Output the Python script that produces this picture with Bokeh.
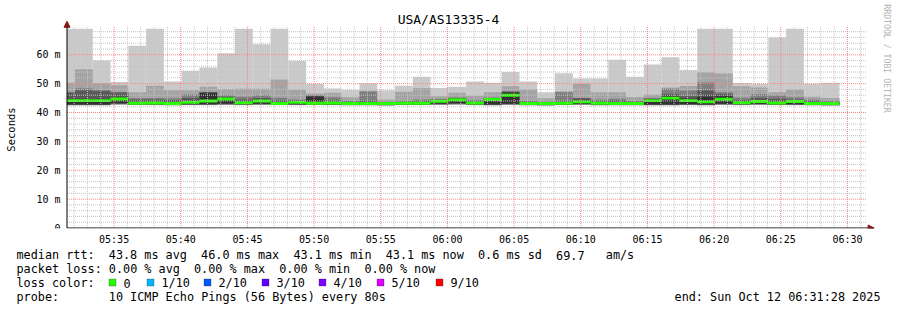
import math
import re
from bokeh.plotting import figure
from bokeh.layouts import column
from bokeh.models import (FixedTicker, Label, BoxAnnotation, Arrow, NormalHead,
                          ColumnDataSource, Range1d)
from bokeh.embed import file_html
from bokeh.resources import INLINE

# ---------------- data ----------------
# time axis in minutes after 05:00
t_start = 31 + 28 / 60      # 05:31:28
t_end = 91 + 28 / 60        # 06:31:28
step_min = 80 / 60          # one probe every 80 s
first_edge = 32 + 4 / 60    # 05:32:04, end of first (partial) step
y_top = 70                  # top of the value scale (ms)

tick_minutes = [35, 40, 45, 50, 55, 60, 65, 70, 75, 80, 85, 90]
tick_labels = ["05:35", "05:40", "05:45", "05:50", "05:55", "06:00",
               "06:05", "06:10", "06:15", "06:20", "06:25", "06:30"]
minor_minutes = [m for m in range(32, 92) if m % 5 != 0]
y_ticks = [0, 10, 20, 30, 40, 50, 60]
y_labels = ["0", "10 m", "20 m", "30 m", "40 m", "50 m", "60 m"]
y_minor = [v for v in range(2, 71, 2) if v % 10 != 0]

# sorted ping RTTs per 80 s step (ms): p1 lowest ... p10 highest
p10 = [69.0, 69.0, 58.0, 50.6, 63.1, 69.0, 50.7, 54.5, 55.6, 60.5, 69.0, 63.6,
       69.0, 57.8, 49.9, 48.3, 47.8, 50.1, 47.7, 49.3, 52.4, 48.5, 48.9, 50.7,
       50.3, 54.0, 50.7, 47.0, 53.6, 51.8, 51.8, 58.3, 52.4, 56.6, 59.1, 54.7,
       69.0, 69.0, 50.2, 49.9, 66.0, 69.0, 50.0, 50.3]
p9 = [50.3, 55.0, 50.1, 49.4, 47.0, 49.3, 47.7, 47.7, 48.9, 48.1, 48.2, 48.2,
      51.4, 47.9, 46.6, 46.8, 45.3, 47.5, 44.5, 47.2, 48.5, 45.6, 46.8, 45.8,
      47.0, 49.1, 48.0, 44.9, 47.4, 50.0, 47.0, 47.0, 45.4, 46.2, 48.7, 49.2,
      53.9, 53.5, 49.1, 48.7, 47.0, 48.0, 45.5, 45.0]
p8 = [47.0, 48.4, 47.9, 47.0, 44.9, 45.0, 44.9, 46.2, 47.0, 46.0, 45.5, 46.0,
      45.1, 44.5, 45.9, 45.3, 44.0, 47.3, 43.8, 44.0, 44.5, 44.5, 45.2, 44.3,
      45.2, 47.4, 44.0, 43.8, 47.0, 45.0, 44.5, 44.8, 44.0, 45.0, 48.2, 47.6,
      50.4, 47.0, 45.1, 46.3, 45.9, 45.3, 44.5, 44.0]
p7 = [46.9, 47.6, 47.4, 46.9, 44.5, 44.5, 44.3, 45.0, 47.0, 45.5, 44.5, 45.0,
      44.2, 44.2, 45.8, 44.2, 43.8, 44.0, 43.6, 43.8, 44.0, 44.5, 45.0, 44.0,
      44.9, 47.2, 43.8, 43.6, 43.9, 44.9, 44.0, 44.2, 43.8, 44.8, 46.5, 45.6,
      47.6, 46.5, 44.3, 45.0, 44.8, 44.5, 44.0, 43.7]
p6 = [44.6, 44.6, 44.6, 45.2, 43.6, 43.7, 43.5, 43.9, 46.8, 45.1, 43.8, 44.4,
      43.5, 43.9, 45.5, 43.7, 43.5, 43.5, 43.4, 43.6, 43.6, 44.3, 44.9, 43.7,
      44.9, 46.9, 43.5, 43.4, 43.6, 44.1, 43.6, 43.5, 43.5, 44.6, 45.6, 44.8,
      45.5, 45.6, 43.8, 44.2, 43.7, 44.2, 43.5, 43.4]
median = [44.1, 44.1, 44.1, 44.7, 43.2, 43.3, 43.1, 43.5, 44.0, 44.7, 43.4, 44.0,
          43.1, 43.5, 43.2, 43.3, 43.1, 43.1, 43.1, 43.2, 43.2, 43.9, 44.4, 43.3,
          44.5, 46.0, 43.1, 43.1, 43.2, 43.7, 43.2, 43.1, 43.1, 44.1, 45.0, 44.1,
          43.7, 44.6, 43.4, 43.8, 43.3, 43.8, 43.1, 43.1]
p5 = [42.8, 42.8, 42.8, 43.2, 42.9, 42.9, 42.8, 42.9, 42.9, 43.0, 42.9, 43.0,
      42.9, 42.9, 42.9, 42.9, 42.8, 42.8, 42.7, 42.9, 42.9, 43.0, 43.2, 42.9,
      42.8, 43.0, 42.8, 42.7, 42.9, 43.0, 42.8, 42.8, 42.8, 42.8, 42.8, 42.9,
      42.8, 43.0, 42.9, 43.0, 42.9, 42.9, 42.8, 42.7]
p4 = [42.7, 42.7, 42.7, 43.0, 42.8, 42.8, 42.7, 42.8, 42.8, 42.9, 42.8, 42.9,
      42.8, 42.8, 42.8, 42.8, 42.7, 42.7, 42.6, 42.8, 42.8, 42.9, 43.0, 42.8,
      42.7, 42.9, 42.7, 42.6, 42.8, 42.9, 42.7, 42.7, 42.7, 42.7, 42.7, 42.8,
      42.7, 42.9, 42.8, 42.9, 42.8, 42.8, 42.7, 42.6]
p3 = [42.6, 42.6, 42.6, 42.9, 42.7, 42.7, 42.6, 42.7, 42.7, 42.8, 42.7, 42.8,
      42.7, 42.7, 42.7, 42.7, 42.6, 42.6, 42.5, 42.7, 42.7, 42.8, 42.9, 42.7,
      42.6, 42.8, 42.6, 42.5, 42.7, 42.8, 42.6, 42.6, 42.6, 42.6, 42.6, 42.7,
      42.6, 42.8, 42.7, 42.8, 42.7, 42.7, 42.6, 42.5]
p2 = [42.5, 42.5, 42.5, 42.8, 42.6, 42.6, 42.5, 42.6, 42.6, 42.7, 42.6, 42.7,
      42.6, 42.6, 42.6, 42.6, 42.5, 42.5, 42.4, 42.6, 42.6, 42.7, 42.8, 42.6,
      42.5, 42.7, 42.5, 42.4, 42.6, 42.7, 42.5, 42.5, 42.5, 42.5, 42.5, 42.6,
      42.5, 42.7, 42.6, 42.7, 42.6, 42.6, 42.5, 42.4]
p1 = [42.4, 42.4, 42.4, 42.7, 42.5, 42.5, 42.4, 42.5, 42.5, 42.6, 42.5, 42.6,
      42.5, 42.5, 42.5, 42.5, 42.4, 42.4, 42.3, 42.5, 42.5, 42.6, 42.7, 42.5,
      42.4, 42.6, 42.4, 42.3, 42.5, 42.6, 42.4, 42.4, 42.4, 42.4, 42.4, 42.5,
      42.4, 42.6, 42.5, 42.6, 42.5, 42.5, 42.4, 42.3]

loss_labels = ["0", "1/10", "2/10", "3/10", "4/10", "5/10", "9/10"]
loss_colors = ["#26ff00", "#00b8ff", "#0059ff", "#5e00ff", "#7e00ff", "#dd00ff", "#ff0000"]

row_rtt = "median rtt:  43.8 ms avg  46.0 ms max  43.1 ms min  43.1 ms now  0.6 ms sd  69.7   am/s"
row_loss = "packet loss: 0.00 % avg  0.00 % max  0.00 % min  0.00 % now"
row_probe = "probe:       10 ICMP Echo Pings (56 Bytes) every 80s"
row_end = "end: Sun Oct 12 06:31:28 2025"
title_text = "USA/AS13335-4"
credit_text = "RRDTOOL / TOBI OETIKER"
y_title = "Seconds"

# ---------------- main figure ----------------
FONT = "DejaVu Sans Mono"
W = 897
MAIN_H = 247
FB = 229           # frame bottom (canvas px); frame spans full width
AX_X = 66.5        # canvas x of the time axis origin
AX_Y = 228.5       # canvas y of value 0
PX_MIN = 800 / 60  # pixels per minute
PX_MS = 2.9        # pixels per ms

x0 = t_start - AX_X / PX_MIN
x1 = x0 + W / PX_MIN
y0 = -(FB - AX_Y) / PX_MS
y1 = y0 + FB / PX_MS

p = figure(width=W, height=MAIN_H, x_range=Range1d(x0, x1), y_range=Range1d(y0, y1),
           output_backend="svg", toolbar_location=None, y_axis_location=None,
           min_border_left=0, min_border_right=0, min_border_top=0,
           min_border_bottom=MAIN_H - FB)
p.outline_line_color = None
p.background_fill_color = "white"
p.border_fill_color = "white"
p.grid.visible = False

n = len(median)
left = [first_edge + (k - 1) * step_min for k in range(n)]
left[0] = t_start
right = [first_edge + k * step_min for k in range(n)]

layers = [(p1, p10, "#cacaca"), (p2, p9, "#a4a4a4"), (p3, p8, "#7e7e7e"),
          (p4, p7, "#585858"), (p5, p6, "#323232")]
for bot, top, col in layers:
    src = ColumnDataSource(dict(left=left, right=right, bottom=bot, top=top))
    p.quad(left="left", right="right", bottom="bottom", top="top", source=src,
           fill_color=col, line_color=None)

band = 0.5
msrc = ColumnDataSource(dict(left=left, right=right,
                             bottom=[m - band for m in median], top=[m + band for m in median]))
p.quad(left="left", right="right", bottom="bottom", top="top", source=msrc,
       fill_color="#26ff00", line_color=None)

# grid (drawn over the smoke, like rrdtool)
p.segment(x0=minor_minutes, x1=minor_minutes, y0=[0] * len(minor_minutes),
          y1=[y_top] * len(minor_minutes), line_color="#c4c4c4", line_width=1, line_dash="1 1")
p.segment(x0=[t_start] * len(y_minor), x1=[t_end] * len(y_minor), y0=y_minor, y1=y_minor,
          line_color="#c4c4c4", line_width=1, line_dash="1 1")
p.segment(x0=tick_minutes, x1=tick_minutes, y0=[0] * len(tick_minutes),
          y1=[y_top] * len(tick_minutes), line_color="#ff8080", line_width=1, line_dash="1 1")
hmaj = y_ticks[1:]
p.segment(x0=[t_start] * len(hmaj), x1=[t_end] * len(hmaj), y0=hmaj, y1=hmaj,
          line_color="#ff8080", line_width=1, line_dash="1 1")

# time axis (labels only; its line is drawn as an arrow)
ax = p.xaxis[0]
ax.ticker = FixedTicker(ticks=tick_minutes, minor_ticks=[])
ax.major_label_overrides = {m: s for m, s in zip(tick_minutes, tick_labels)}
ax.axis_line_color = None
ax.major_tick_line_color = None
ax.major_tick_in = 0
ax.major_tick_out = 0
ax.minor_tick_line_color = None
ax.major_label_text_font = FONT
ax.major_label_text_font_size = "10px"
ax.major_label_text_color = "#000000"
ax.major_label_standoff = 5

head_col = "#8b1414"
p.add_layout(Arrow(x_start=t_start, y_start=0, x_end=t_start, y_end=71.6, line_color="black",
                   line_width=1, end=NormalHead(size=6, fill_color=head_col, line_color=head_col)))
p.add_layout(Arrow(x_start=t_start, y_start=0, x_end=92.0, y_end=0, line_color="black",
                   line_width=1, end=NormalHead(size=6, fill_color=head_col, line_color=head_col)))


def lab(fig, fb, text, cx, cy, size, color="#000000", align="left", angle=0.0):
    fig.add_layout(Label(x=cx, y=fb - cy, x_units="screen", y_units="screen", text=text,
                         text_font=FONT, text_font_size=f"{size}px", text_color=color,
                         text_baseline="middle", text_align=align, angle=angle))


# value-axis tick labels placed through the y scale
for v, s in zip(y_ticks, y_labels):
    p.add_layout(Label(x=60, x_units="screen", y=v, y_units="data", text=s,
                       text_font=FONT, text_font_size="10px", text_color="#000000",
                       text_align="right", text_baseline="middle"))

lab(p, FB, y_title, 10, 130, 10.5, align="center", angle=math.pi / 2)
lab(p, FB, title_text, 448, 19.5, 13, align="center")
lab(p, FB, credit_text, 886, 59, 8.2, color="#b4b4b4", align="center", angle=-math.pi / 2)

# ---------------- legend strip ----------------
LEG_H = 310 - MAIN_H
q = figure(width=W, height=LEG_H, x_range=Range1d(0, W), y_range=Range1d(0, LEG_H),
           output_backend="svg", toolbar_location=None,
           x_axis_location=None, y_axis_location=None,
           min_border_left=0, min_border_right=0, min_border_top=0, min_border_bottom=0)
q.outline_line_color = None
q.grid.visible = False
q.background_fill_color = "white"
q.border_fill_color = "white"

QB = 310   # canvas y of legend strip bottom
LS = 11.8  # legend font size (px)
CW = 7.1   # monospace character advance at LS


def row(text, cx, cy):
    # keep rrdtool's column layout: place each space-separated group at its column
    for m in re.finditer(r"\S+(?: \S+)*", text):
        lab(q, QB, m.group(0), cx + m.start() * CW, cy, LS)


row(row_rtt, 16, 254.5)
row(row_loss, 16, 268.5)
row("loss color:", 16, 282.5)
sq_x = [108, 146, 203, 261, 318, 376, 435]
for sx, txt, col in zip(sq_x, loss_labels, loss_colors):
    q.add_layout(BoxAnnotation(left=sx + 0.5, right=sx + 7.5, top=QB - 278.5, bottom=QB - 285.5,
                               left_units="screen", right_units="screen",
                               top_units="screen", bottom_units="screen",
                               fill_color=col, fill_alpha=1, line_color="#202020", line_width=1))
    lab(q, QB, txt, sx + 15, 282.5, LS)
row(row_probe, 16, 296.5)
lab(q, QB, row_end, 880, 296.5, LS, align="right")

layout = column(p, q, spacing=0)
open("out.html", "w").write(file_html(layout, INLINE))
